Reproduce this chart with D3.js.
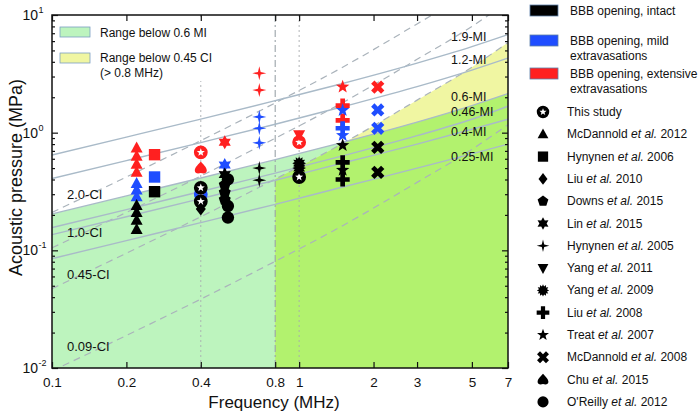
<!DOCTYPE html>
<html>
<head>
<meta charset="utf-8">
<script src="https://cdn.jsdelivr.net/npm/d3@7"></script>
<style>
body { margin: 0; background: #fff; }
text { font-family: "Liberation Sans", Arial, sans-serif; fill: #111; }
</style>
</head>
<body>
<svg id="chart" width="700" height="415"></svg>
<script>
// ---- data ----
var lineFreqs = [0.1, 0.2, 0.4, 0.8, 1.5, 3, 5, 7];

var miLabels = ["1.9-MI", "1.2-MI", "0.6-MI", "0.46-MI", "0.4-MI", "0.25-MI"];
var mi190 = [0.646, 0.917, 1.305, 1.87, 2.62, 3.90, 5.38, 6.81];
var mi120 = [0.408, 0.579, 0.824, 1.18, 1.66, 2.46, 3.40, 4.30];
var mi060 = [0.204, 0.290, 0.412, 0.590, 0.828, 1.23, 1.70, 2.15];
var mi046 = [0.156, 0.222, 0.316, 0.453, 0.635, 0.943, 1.30, 1.68];
var mi040 = [0.136, 0.193, 0.275, 0.394, 0.552, 0.80, 1.07, 1.30];
var mi025 = [0.085, 0.121, 0.172, 0.246, 0.345, 0.50, 0.66, 0.80];

var ciLabels = ["2.0-CI", "1.0-CI", "0.45-CI", "0.09-CI"];
var ci200 = [0.21, 0.42, 0.856, 1.79, 3.6, 8.4, 16, 25.9];
var ci100 = [0.105, 0.21, 0.428, 0.896, 1.8, 4.2, 8.0, 12.95];
var ci045 = [0.0473, 0.0945, 0.193, 0.403, 0.81, 1.89, 3.6, 5.83];
var ci009 = [0.00945, 0.0189, 0.0385, 0.0806, 0.162, 0.378, 0.72, 1.17];

var xTicks = [0.1, 0.2, 0.4, 0.8, 1, 2, 3, 5, 7];
var yMajor = [0.01, 0.1, 1, 10];
var yExp = ["-2", "-1", "0", "1"];
var refFreqs = [0.4, 0.8, 1];

var catLabels = [["BBB opening, intact"], ["BBB opening, mild", "extravasations"], ["BBB opening, extensive", "extravasations"]];
var catColors = ["#000000", "#1f4dff", "#ff2020"];

// [frequency MHz, pressure MPa, category 0 intact / 1 mild / 2 extensive]
var thisStudy = [[0.4, 0.68, 2], [0.4, 0.30, 1], [0.4, 0.34, 0], [0.4, 0.26, 0], [1, 0.83, 2], [1, 0.42, 0]];
var mcdannold2012 = [[0.22, 0.74, 2], [0.22, 0.63, 2], [0.22, 0.54, 2], [0.22, 0.46, 2],
                     [0.22, 0.37, 1], [0.22, 0.325, 1], [0.22, 0.285, 1],
                     [0.22, 0.24, 0], [0.22, 0.21, 0], [0.22, 0.18, 0], [0.22, 0.15, 0]];
var hynynen2006 = [[0.26, 0.65, 2], [0.26, 0.42, 1], [0.26, 0.315, 0]];
var liu2010 = [[0.4, 0.225, 0]];
var downs2015 = [[0.5, 0.36, 0], [0.5, 0.31, 0], [0.5, 0.27, 0]];
var lin2015 = [[0.5, 0.83, 2], [0.5, 0.53, 1], [0.5, 0.44, 0]];
var hynynen2005 = [[0.69, 3.2, 2], [0.69, 2.3, 2], [0.69, 1.36, 1], [0.69, 1.09, 1], [0.69, 0.82, 1],
                   [0.69, 0.5, 0], [0.69, 0.395, 0]];
var yang2011 = [[1, 0.96, 2]];
var yang2009 = [[1, 0.55, 0], [1, 0.5, 0]];
var liu2008 = [[1.5, 1.7, 2], [1.5, 1.27, 2], [1.5, 1.09, 1], [1.5, 0.56, 0], [1.5, 0.40, 0]];
var treat2007 = [[1.5, 2.45, 2], [1.5, 1.55, 1], [1.5, 0.95, 1], [1.5, 0.78, 0], [1.5, 0.48, 0]];
var mcdannold2008 = [[2.08, 2.44, 2], [2.08, 1.56, 1], [2.08, 1.09, 1], [2.08, 0.75, 0], [2.08, 0.46, 0]];
var chu2015 = [[0.4, 0.5, 2]];
var oreilly2012 = [[0.515, 0.40, 0], [0.515, 0.238, 0], [0.515, 0.19, 0]];

var studies = [
    {name: "This study", year: "", shape: "thisStudy", data: thisStudy},
    {name: "McDannold", year: " 2012", shape: "triUp", data: mcdannold2012},
    {name: "Hynynen", year: " 2006", shape: "square", data: hynynen2006},
    {name: "Liu", year: " 2010", shape: "diamond", data: liu2010},
    {name: "Downs", year: " 2015", shape: "pentagon", data: downs2015},
    {name: "Lin", year: " 2015", shape: "hexagram", data: lin2015},
    {name: "Hynynen", year: " 2005", shape: "thinStar", data: hynynen2005},
    {name: "Yang", year: " 2011", shape: "triDown", data: yang2011},
    {name: "Yang", year: " 2009", shape: "burst", data: yang2009},
    {name: "Liu", year: " 2008", shape: "plus", data: liu2008},
    {name: "Treat", year: " 2007", shape: "star", data: treat2007},
    {name: "McDannold", year: " 2008", shape: "cross", data: mcdannold2008},
    {name: "Chu", year: " 2015", shape: "spade", data: chu2015},
    {name: "O'Reilly", year: " 2012", shape: "circle", data: oreilly2012}
];

// ---- layout ----
var LEFT = 52, RIGHT = 508, TOP = 15, BOTTOM = 368;
var GREEN = "#bdf4be", LIME = "#b2f26e", YELLOW = "#f0f6a2";

var svg = d3.select("#chart");
var x = d3.scaleLog().domain([0.1, 7]).range([LEFT, RIGHT]);
var y = d3.scaleLog().domain([0.01, 10]).range([BOTTOM, TOP]);

var defs = svg.append("defs");
defs.append("clipPath").attr("id", "plotClip")
    .append("rect").attr("x", LEFT).attr("y", TOP).attr("width", RIGHT - LEFT).attr("height", BOTTOM - TOP);
defs.append("clipPath").attr("id", "hiFreq")
    .append("rect").attr("x", x(0.8)).attr("y", TOP).attr("width", RIGHT - x(0.8)).attr("height", BOTTOM - TOP);

function curveRows(values) {
    return lineFreqs.map(function(f, i) { return [f, values[i]]; });
}

var line = d3.line()
    .x(function(d) { return x(d[0]); })
    .y(function(d) { return y(d[1]); })
    .curve(d3.curveMonotoneX);
var areaBelow = d3.area()
    .x(function(d) { return x(d[0]); })
    .y0(BOTTOM)
    .y1(function(d) { return y(d[1]); })
    .curve(d3.curveMonotoneX);

defs.append("clipPath").attr("id", "ciClip")
    .append("path").attr("d", areaBelow(curveRows(ci045)));

var plot = svg.append("g").attr("clip-path", "url(#plotClip)");

// green: below 0.6 MI
plot.append("path").attr("d", areaBelow(curveRows(mi060))).attr("fill", GREEN);
// yellow: below 0.45 CI above 0.8 MHz, lime where both overlap
var hi = plot.append("g").attr("clip-path", "url(#hiFreq)");
hi.append("path").attr("d", areaBelow(curveRows(ci045))).attr("fill", YELLOW);
hi.append("path").attr("d", areaBelow(curveRows(mi060))).attr("fill", LIME)
    .attr("clip-path", "url(#ciClip)");

// reference frequencies
refFreqs.forEach(function(f) {
    plot.append("line")
        .attr("x1", x(f)).attr("x2", x(f)).attr("y1", TOP).attr("y2", BOTTOM)
        .attr("stroke", f == 0.8 ? "#9aa3a8" : "#a9adb0")
        .attr("stroke-width", f == 0.8 ? 1.1 : 0.9)
        .attr("stroke-dasharray", f == 0.8 ? "7,3,2,3" : "2,3");
});

// iso-CI (dashed) and iso-MI (solid) curves
[ci200, ci100, ci045, ci009].forEach(function(c) {
    plot.append("path").attr("d", line(curveRows(c)))
        .attr("fill", "none").attr("stroke", "#aab3bb")
        .attr("stroke-width", 1.2).attr("stroke-dasharray", "7,5");
});
[mi190, mi120, mi060, mi046, mi040, mi025].forEach(function(c) {
    plot.append("path").attr("d", line(curveRows(c)))
        .attr("fill", "none").attr("stroke", "#a9bac8").attr("stroke-width", 1.4);
});

// curve labels
var miLabelY = [41, 64, 101, 116, 136, 161];
miLabels.forEach(function(t, i) {
    svg.append("text").attr("x", 451).attr("y", miLabelY[i]).attr("font-size", 12.5).text(t);
});
var ciLabelY = [199, 237, 279, 351];
ciLabels.forEach(function(t, i) {
    svg.append("text").attr("x", 67).attr("y", ciLabelY[i]).attr("font-size", 13).text(t);
});

// top-left legend
var tl = svg.append("g");
tl.append("rect").attr("x", LEFT + 2).attr("y", TOP + 2).attr("width", 162).attr("height", 64).attr("fill", "#fff");
tl.append("rect").attr("x", 60).attr("y", 27).attr("width", 30).attr("height", 10)
    .attr("fill", GREEN).attr("stroke", "#7a9fc2").attr("stroke-width", 0.8);
tl.append("rect").attr("x", 60).attr("y", 53).attr("width", 30).attr("height", 10)
    .attr("fill", YELLOW).attr("stroke", "#7a9fc2").attr("stroke-width", 0.8);
tl.append("text").attr("x", 100).attr("y", 37).attr("font-size", 12).text("Range below 0.6 MI");
tl.append("text").attr("x", 100).attr("y", 62).attr("font-size", 12).text("Range below 0.45 CI");
tl.append("text").attr("x", 100).attr("y", 77).attr("font-size", 12).text("(> 0.8 MHz)");

// ---- marker shapes ----
function starPath(n, R, r) {
    var pts = [];
    for (var i = 0; i < 2 * n; i++) {
        var a = -Math.PI / 2 + i * Math.PI / n;
        var rad = i % 2 ? r : R;
        pts.push([rad * Math.cos(a), rad * Math.sin(a)]);
    }
    return "M" + pts.map(function(p) { return p[0].toFixed(2) + "," + p[1].toFixed(2); }).join("L") + "Z";
}
var shapes = {
    circle: d3.symbol(d3.symbolCircle, 120)(),
    triUp: "M0,-6.5L6,4.5L-6,4.5Z",
    triDown: "M0,6.5L6,-4.5L-6,-4.5Z",
    square: d3.symbol(d3.symbolSquare, 130)(),
    diamond: "M0,-6.5L5,0L0,6.5L-5,0Z",
    pentagon: starPath(5, 6.3, 6.3 * Math.cos(Math.PI / 5)),
    hexagram: starPath(6, 7, 4),
    thinStar: starPath(4, 7, 1.9),
    burst: starPath(12, 6.8, 4.6),
    plus: d3.symbol(d3.symbolCross, 110)(),
    star: starPath(5, 7, 2.9),
    cross: d3.symbol(d3.symbolCross, 110)(),
    spade: "M0,-6.5C2,-4 6,-1 6,2.5C6,5.5 3,6 0,5C-3,6 -6,5.5 -6,2.5C-6,-1 -2,-4 0,-6.5Z",
    ring: d3.symbol(d3.symbolCircle, 150)(),
    innerStar: starPath(5, 4.2, 1.8)
};

function drawMarker(g, shape, color) {
    if (shape == "thisStudy") {
        g.append("path").attr("d", shapes.ring).attr("fill", color);
        g.append("path").attr("d", shapes.innerStar).attr("fill", "#fff");
        return;
    }
    var p = g.append("path").attr("d", shapes[shape]).attr("fill", color);
    if (shape == "cross") p.attr("transform", "rotate(45)");
}

// ---- data points, extensive first so intact sits on top ----
var pts = svg.append("g");
[2, 1, 0].forEach(function(cat) {
    studies.forEach(function(s) {
        s.data.filter(function(d) { return d[2] == cat; }).forEach(function(d) {
            var g = pts.append("g").attr("transform", "translate(" + x(d[0]) + "," + y(d[1]) + ")");
            drawMarker(g, s.shape, catColors[cat]);
        });
    });
});

// ---- axes ----
var yMinor = [];
[0.01, 0.1, 1].forEach(function(b) {
    for (var k = 2; k <= 9; k++) yMinor.push(b * k);
});
var yAll = yMajor.concat(yMinor);
function isMajor(v) { return yMajor.some(function(m) { return Math.abs(m - v) < 1e-9; }); }

var axL = svg.append("g").attr("transform", "translate(" + LEFT + ",0)")
    .call(d3.axisLeft(y).tickValues(yAll).tickFormat("").tickSizeOuter(0));
axL.selectAll(".tick line").attr("x2", function(d) { return isMajor(d) ? 6 : 3; });
var axR = svg.append("g").attr("transform", "translate(" + RIGHT + ",0)")
    .call(d3.axisRight(y).tickValues(yAll).tickFormat("").tickSizeOuter(0));
axR.selectAll(".tick line").attr("x2", function(d) { return isMajor(d) ? -6 : -3; });

var axB = svg.append("g").attr("transform", "translate(0," + BOTTOM + ")")
    .call(d3.axisBottom(x).tickValues(xTicks).tickFormat(d3.format("")).tickSizeInner(-6).tickSizeOuter(0).tickPadding(9));
axB.selectAll("text").attr("font-size", 13.5).attr("font-family", "Liberation Sans, Arial, sans-serif").attr("fill", "#111");
var axT = svg.append("g").attr("transform", "translate(0," + TOP + ")")
    .call(d3.axisTop(x).tickValues(xTicks).tickFormat("").tickSizeInner(-6).tickSizeOuter(0));
svg.selectAll(".domain").remove();
svg.selectAll(".tick line").attr("stroke", "#111").attr("stroke-width", 1.2);

yMajor.forEach(function(v, i) {
    svg.append("text").attr("x", 38).attr("y", y(v) + 5).attr("font-size", 14).attr("text-anchor", "end").text("10");
    svg.append("text").attr("x", 38.5).attr("y", y(v) - 2).attr("font-size", 9).text(yExp[i]);
});

svg.append("rect").attr("x", LEFT).attr("y", TOP).attr("width", RIGHT - LEFT).attr("height", BOTTOM - TOP)
    .attr("fill", "none").attr("stroke", "#111").attr("stroke-width", 1.5);

svg.append("text").attr("x", (LEFT + RIGHT) / 2 - 6).attr("y", 408).attr("font-size", 17)
    .attr("text-anchor", "middle").text("Frequency (MHz)");
svg.append("text").attr("transform", "translate(22," + ((TOP + BOTTOM) / 2 - 14) + ") rotate(-90)")
    .attr("font-size", 18).attr("text-anchor", "middle").text("Acoustic pressure (MPa)");

// ---- right legends ----
catLabels.forEach(function(lines, i) {
    var by = [5, 35, 68][i];
    svg.append("rect").attr("x", 530).attr("y", by).attr("width", 28).attr("height", 11)
        .attr("fill", catColors[i]).attr("stroke", "#5d7fa8").attr("stroke-width", 0.8);
    lines.forEach(function(t, j) {
        svg.append("text").attr("x", 570).attr("y", by + 10 + j * 15).attr("font-size", 12).text(t);
    });
});

studies.forEach(function(s, i) {
    var ly = 112 + i * 22.3;
    var g = svg.append("g").attr("transform", "translate(543," + ly + ") scale(0.9)");
    drawMarker(g, s.shape, "#000");
    var t = svg.append("text").attr("x", 567).attr("y", ly + 4).attr("font-size", 12);
    t.append("tspan").text(s.name);
    if (s.year) {
        t.append("tspan").text(" et al.").attr("font-style", "italic");
        t.append("tspan").text(s.year);
    }
});
</script>
</body>
</html>
